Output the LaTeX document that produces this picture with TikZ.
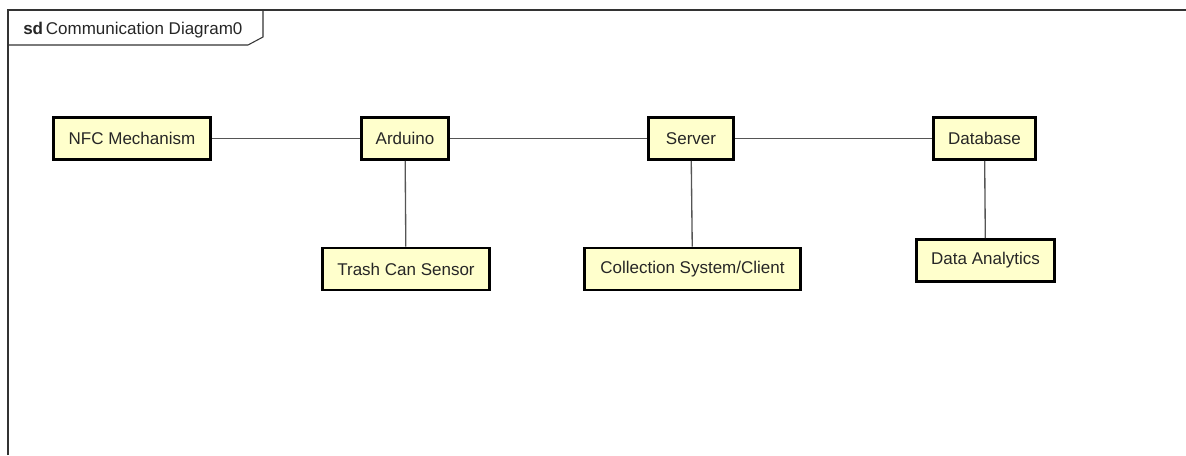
\documentclass[tikz,border=0pt]{standalone}
\usepackage{fontspec}
\setmainfont{Liberation Sans}
\definecolor{objfill}{HTML}{FFFFCC}
\definecolor{linkgray}{HTML}{555555}

\begin{document}
\begin{tikzpicture}[x=0.75pt, y=-0.75pt,
    every node/.style = {font=\fontsize{12.75}{15}\selectfont, text=black!85},
    obj/.style = {shape=rectangle, draw, line width=2pt,
      fill=objfill, minimum height=31.7pt, inner sep=0pt},
    link/.style = {draw=linkgray, line width=1pt}]
    \useasboundingbox (0,0) rectangle (1186,455);
    % frame
    \draw[line width=0.8pt, black!80] (8,455) -- (8,10) -- (1186,10);
    \draw[line width=0.8pt, black!80] (8,45) -- (248,45) -- (263,37) -- (263,10);
    \node[anchor=west, inner sep=0pt] (title) at (23,30)
      {\textbf{sd}\,Communication Diagram0};
    % objects
    \node[obj, minimum width=118pt] (nfc) at (132,138.5) {NFC Mechanism};
    \node[obj, minimum width=65.5pt] (arduino) at (405,138.5) {Arduino};
    \node[obj, minimum width=64pt] (server) at (691,138.5) {Server};
    \node[obj, minimum width=76.7pt] (db) at (984.5,138.5) {Database};
    \node[obj, minimum width=125.5pt] (sensor) at (406,269) {Trash Can Sensor};
    \node[obj, minimum width=162.2pt] (client) at (692.5,269) {Collection System/Client};
    \node[obj, minimum width=103.7pt] (analytics) at (985.5,260.5) {Data Analytics};
    % links
    \draw[link] (nfc) -- (arduino);
    \draw[link] (arduino) -- (server);
    \draw[link] (server) -- (db);
    \draw[link] (arduino) -- (sensor);
    \draw[link] (server) -- (client);
    \draw[link] (db) -- (analytics);
  \end{tikzpicture}
\end{document}
